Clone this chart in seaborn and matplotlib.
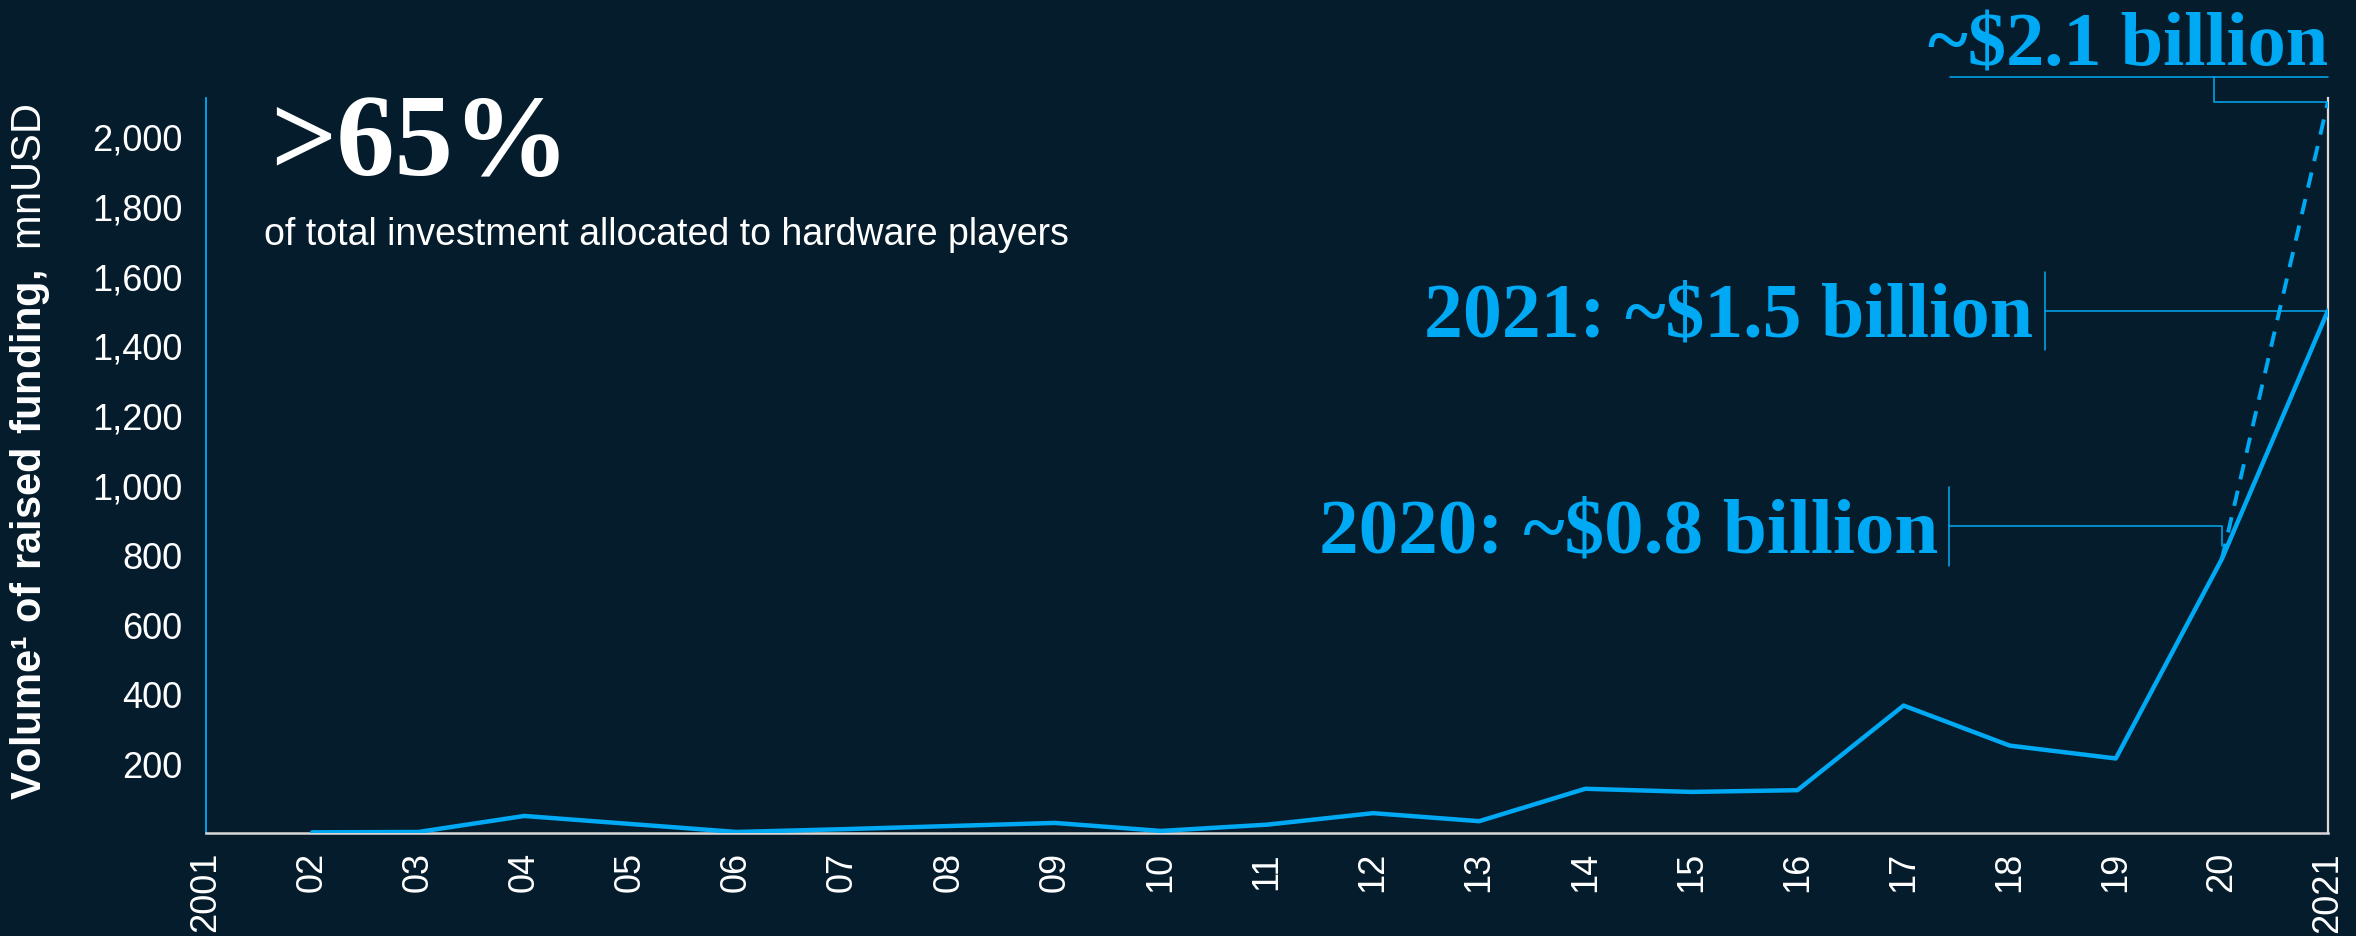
import matplotlib
matplotlib.use("Agg")
import numpy as np
import pandas as pd
import seaborn as sns
import matplotlib.pyplot as plt

# ---------------- data ----------------
years = list(range(2001, 2022))
funding = [np.nan, 2, 3, 49, 26, 3, 11, 20, 29, 6, 24, 57, 34, 127, 118, 123,
           366, 251, 214, 787, 1500]
projection_years = [2020, 2021]
projection_values = [787, 2100]
x_tick_labels = ["2001", "02", "03", "04", "05", "06", "07", "08", "09", "10",
                 "11", "12", "13", "14", "15", "16", "17", "18", "19", "20", "2021"]
y_ticks = [200, 400, 600, 800, 1000, 1200, 1400, 1600, 1800, 2000]

headline = ">65%"
subtitle = "of total investment allocated to hardware players"
label_2021 = r"2021: ~\$1.5 billion"
label_2020 = r"2020: ~\$0.8 billion"
label_top = r"~\$2.1 billion"
level_2021 = 1500
level_2020 = 880

BG = "#051C2C"
BLUE = "#00A9F4"
WHITE = "#FFFFFF"
GREY = "#D9D9D9"

sns.set_theme(style="white")
plt.rcParams["font.family"] = ["Liberation Sans", "DejaVu Sans"]
plt.rcParams["mathtext.fontset"] = "custom"
plt.rcParams["mathtext.rm"] = "Liberation Sans"
plt.rcParams["mathtext.bf"] = "Liberation Sans:bold"

fig = plt.figure(figsize=(23.56, 9.37), dpi=100, facecolor=BG)
ax = fig.add_axes([0.08744, 0.1099, 0.90068, 0.7844])
ax.set_facecolor(BG)

df = pd.DataFrame({"year": years, "funding": funding})
proj = pd.DataFrame({"year": projection_years, "funding": projection_values})

sns.lineplot(data=proj, x="year", y="funding", ax=ax, color=BLUE, lw=2.8,
             linestyle=(0, (4, 3)), zorder=3)
sns.lineplot(data=df, x="year", y="funding", ax=ax, color=BLUE, lw=3.2, zorder=4)

ax.set_xlim(2001, 2021)
ax.set_ylim(0, 2110)
ax.set_xticks(years)
ax.set_xticklabels(x_tick_labels, rotation=90, fontsize=26, color=WHITE)
ax.set_yticks(y_ticks)
ax.set_yticklabels([f"{v:,}" for v in y_ticks], fontsize=26, color=WHITE)
ax.tick_params(axis="x", length=0, pad=13)
ax.tick_params(axis="y", length=0, pad=17)
ax.set_xlabel("")
ax.set_ylabel("")
ax.grid(False)

for s in ax.spines.values():
    s.set_visible(True)
ax.spines["top"].set_visible(False)
ax.spines["left"].set_color(BLUE)
ax.spines["left"].set_linewidth(1.3)
ax.spines["bottom"].set_color(GREY)
ax.spines["bottom"].set_linewidth(1.8)
ax.spines["right"].set_color(GREY)
ax.spines["right"].set_linewidth(1.6)

# y label (bold part + regular part)
fig.text(0.0127, 0.5176,
         r"$\mathbf{Volume¹\ of\ raised\ funding,}$ mnUSD",
         rotation=90, ha="center", va="center", fontsize=30, color=WHITE)

serif = ["Liberation Serif", "DejaVu Serif"]

# headline
fig.text(0.1146, 0.813, headline, fontsize=84, fontweight="bold",
         family=serif, color=WHITE, ha="left", va="baseline")
fig.text(0.1121, 0.738, subtitle, fontsize=27, color=WHITE,
         ha="left", va="baseline")

ann_kw = dict(color=BLUE, lw=1.1, clip_on=False, zorder=2)

# top projection annotation
top_line_y = 2170
ax.plot([2017.44, 2021], [top_line_y, top_line_y], **ann_kw)
ax.plot([2019.93, 2019.93, 2021], [top_line_y, projection_values[1],
                                   projection_values[1]], **ann_kw)
ax.text(2021, 2205, label_top, ha="right", va="baseline", fontsize=55,
        fontweight="bold", family=serif, color=BLUE)

# 2021 annotation
ax.plot([2018.33, 2021], [level_2021, level_2021], **ann_kw)
ax.plot([2018.33, 2018.33], [level_2021 - 112, level_2021 + 112], **ann_kw)
ax.text(2018.22, level_2021 - 18, label_2021, ha="right", va="center",
        fontsize=56, fontweight="bold", family=serif, color=BLUE)

# 2020 annotation
ax.plot([2017.43, 2020, 2020], [level_2020, level_2020, level_2020 - 55], **ann_kw)
ax.plot([2017.43, 2017.43], [level_2020 - 112, level_2020 + 112], **ann_kw)
ax.text(2017.33, level_2020 - 18, label_2020, ha="right", va="center",
        fontsize=57, fontweight="bold", family=serif, color=BLUE)

fig.savefig("out.png", dpi=100, facecolor=BG)
